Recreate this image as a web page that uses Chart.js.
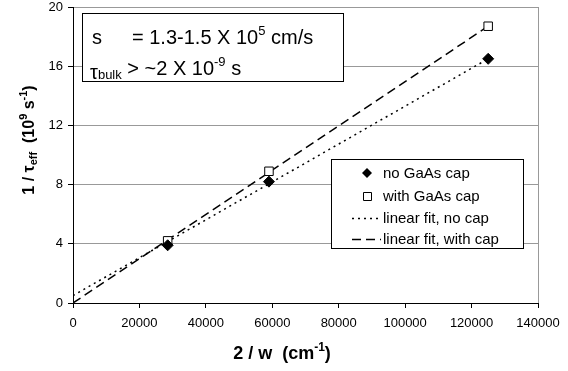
<!DOCTYPE html>
<html lang="en">
<head>
    <meta charset="UTF-8">
    <title>1/tau_eff vs 2/w</title>
    <script src="https://cdn.jsdelivr.net/npm/chart.js"></script>
    <style>
        body { margin: 0; background: #fff; }
    </style>
</head>
<body>
    <canvas id="tauChart" width="568" height="371"></canvas>

    <script>
        // values
        const widthInv = [28500, 59000, 125000];      // 2/w (cm^-1)
        const noCap = [3.9, 8.2, 16.5];               // 1/tau_eff, no GaAs cap
        const withCap = [4.2, 8.9, 18.7];             // 1/tau_eff, with GaAs cap
        const fitX = [0, 125000];
        const fitNoCap = [0.5, 16.5];
        const fitWithCap = [0, 18.7];
        const seriesLabels = ['no GaAs cap', 'with GaAs cap', 'linear fit, no cap', 'linear fit, with cap'];

        const pts = (xs, ys) => xs.map((x, i) => ({ x: x, y: ys[i] }));
        const FONT = '"Liberation Sans", Arial, sans-serif';

        // draw a run of text pieces (size, shift, bold) one after another
        function drawRuns(ctx, runs, x, y, align) {
            let total = 0;
            runs.forEach(r => {
                ctx.font = (r.bold ? 'bold ' : '') + r.size + 'px ' + FONT;
                r.w = ctx.measureText(r.t).width;
                total += r.w;
            });
            let cx = align === 'center' ? x - total / 2 : x;
            ctx.textAlign = 'left';
            ctx.textBaseline = 'alphabetic';
            runs.forEach(r => {
                ctx.font = (r.bold ? 'bold ' : '') + r.size + 'px ' + FONT;
                ctx.fillText(r.t, cx, y + (r.dy || 0));
                cx += r.w;
            });
        }

        const extras = {
            id: 'extras',
            afterDraw(chart) {
                const ctx = chart.ctx;
                ctx.save();
                ctx.fillStyle = '#000';
                ctx.strokeStyle = '#000';
                ctx.lineWidth = 1;

                // parameter box
                ctx.fillStyle = '#fff';
                ctx.fillRect(82.5, 13.5, 261, 68);
                ctx.strokeRect(82.5, 13.5, 261, 68);
                ctx.fillStyle = '#000';
                drawRuns(ctx, [{ t: 's', size: 20 }], 92, 44);
                drawRuns(ctx, [
                    { t: '= 1.3-1.5 X 10', size: 20 },
                    { t: '5', size: 13, dy: -9 },
                    { t: ' cm/s', size: 20 }
                ], 132, 44);
                drawRuns(ctx, [
                    { t: 'τ', size: 20, dy: 4 },
                    { t: 'bulk', size: 13, dy: 4 },
                    { t: ' > ~2 X 10', size: 20 },
                    { t: '-9', size: 13, dy: -9 },
                    { t: ' s', size: 20 }
                ], 90, 75);

                // legend
                ctx.fillStyle = '#fff';
                ctx.fillRect(331.5, 159.5, 192, 89);
                ctx.strokeRect(331.5, 159.5, 192, 89);
                const rows = [173, 196, 218, 239];
                const ds = chart.data.datasets;
                rows.forEach((ry, i) => {
                    const d = ds[i];
                    ctx.fillStyle = '#000';
                    if (i < 2) {
                        ctx.beginPath();
                        if (i === 0) {
                            ctx.moveTo(367, ry - 5); ctx.lineTo(372, ry);
                            ctx.lineTo(367, ry + 5); ctx.lineTo(362, ry);
                            ctx.closePath(); ctx.fill();
                        } else {
                            ctx.fillStyle = '#fff';
                            ctx.rect(363.5, ry - 3.5, 8, 8);
                            ctx.fill(); ctx.stroke();
                        }
                    } else {
                        ctx.setLineDash(d.borderDash);
                        ctx.lineWidth = d.borderWidth;
                        ctx.beginPath();
                        ctx.moveTo(352, ry + 0.5); ctx.lineTo(381, ry + 0.5);
                        ctx.stroke();
                        ctx.setLineDash([]);
                        ctx.lineWidth = 1;
                    }
                    ctx.fillStyle = '#000';
                    drawRuns(ctx, [{ t: d.label, size: 15 }], 383, ry + 5);
                });

                // axis titles
                drawRuns(ctx, [
                    { t: '2 / w  (cm', size: 18, bold: true },
                    { t: '-1', size: 12, bold: true, dy: -8 },
                    { t: ')', size: 18, bold: true }
                ], 282, 359, 'center');

                ctx.save();
                ctx.translate(34, 140);
                ctx.rotate(-Math.PI / 2);
                drawRuns(ctx, [
                    { t: '1 / τ', size: 16, bold: true },
                    { t: 'eff', size: 11, bold: true, dy: 3 },
                    { t: '  (10', size: 16, bold: true },
                    { t: '9', size: 11, bold: true, dy: -7 },
                    { t: ' s', size: 16, bold: true },
                    { t: '-1', size: 11, bold: true, dy: -7 },
                    { t: ')', size: 16, bold: true }
                ], 0, 0, 'center');
                ctx.restore();

                ctx.restore();
            }
        };

        const ctx = document.getElementById('tauChart').getContext('2d');
        new Chart(ctx, {
            type: 'scatter',
            data: {
                datasets: [{
                    label: seriesLabels[0],
                    data: pts(widthInv, noCap),
                    pointStyle: 'rectRot',
                    pointRadius: 5.5,
                    backgroundColor: '#000',
                    borderColor: '#000',
                    order: 0
                }, {
                    label: seriesLabels[1],
                    data: pts(widthInv, withCap),
                    pointStyle: 'rect',
                    pointRadius: 6,
                    backgroundColor: '#fff',
                    borderColor: '#000',
                    borderWidth: 1,
                    order: 1
                }, {
                    label: seriesLabels[2],
                    data: pts(fitX, fitNoCap),
                    showLine: true,
                    pointRadius: 0,
                    borderColor: '#000',
                    borderWidth: 1.5,
                    borderDash: [2, 4],
                    order: 2
                }, {
                    label: seriesLabels[3],
                    data: pts(fitX, fitWithCap),
                    showLine: true,
                    pointRadius: 0,
                    borderColor: '#000',
                    borderWidth: 1.5,
                    borderDash: [9, 5],
                    order: 3
                }]
            },
            options: {
                responsive: false,
                animation: false,
                layout: { padding: { left: 0, top: 5, right: 30, bottom: 0 } },
                plugins: {
                    legend: { display: false },
                    tooltip: { enabled: false }
                },
                scales: {
                    x: {
                        type: 'linear',
                        min: 0,
                        max: 140000,
                        ticks: {
                            stepSize: 20000,
                            color: '#000',
                            font: { family: FONT, size: 13 },
                            padding: 8,
                            maxRotation: 0,
                            callback: v => String(v)
                        },
                        grid: {
                            color: c => c.tick && c.tick.value === 140000 ? '#999' : 'rgba(0,0,0,0)',
                            tickColor: '#000',
                            tickLength: 5
                        },
                        border: { color: '#000', width: 1 },
                        afterFit: s => { s.height = 68; s.paddingLeft = 0; s.paddingRight = 0; }
                    },
                    y: {
                        min: 0,
                        max: 20,
                        ticks: {
                            stepSize: 4,
                            color: '#000',
                            font: { family: FONT, size: 13 },
                            padding: 5
                        },
                        grid: {
                            color: '#999',
                            tickColor: '#000',
                            tickLength: 5
                        },
                        border: { color: '#000', width: 1 },
                        afterFit: s => { s.width = 73; s.paddingTop = 0; s.paddingBottom = 0; }
                    }
                }
            },
            plugins: [extras]
        });
    </script>
</body>
</html>
